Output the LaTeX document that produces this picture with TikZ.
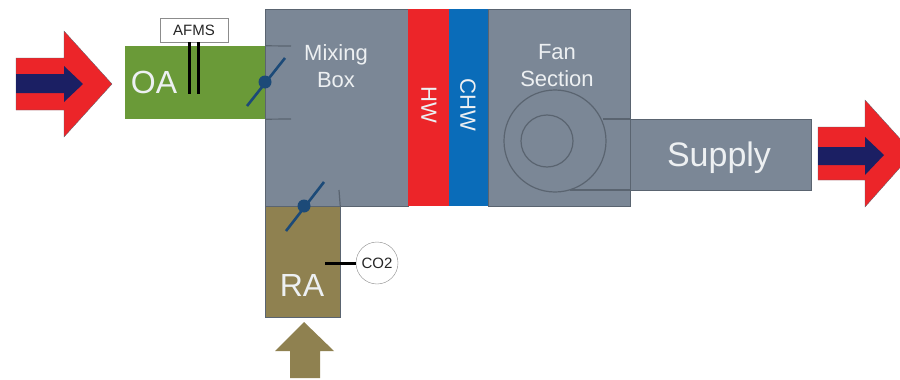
\documentclass[tikz,border=0pt]{standalone}
\usepackage{fontspec}
\setmainfont{Liberation Sans}
\usetikzlibrary{positioning}

\definecolor{ductgrey}{HTML}{7B8796}
\definecolor{edgegrey}{HTML}{5A6470}
\definecolor{oagreen}{HTML}{6A9A38}
\definecolor{raolive}{HTML}{8F8150}
\definecolor{hwred}{HTML}{EC2529}
\definecolor{chwblue}{HTML}{0A6CB9}
\definecolor{flownavy}{HTML}{1B1F63}
\definecolor{damperblue}{HTML}{1C4A78}
\definecolor{paletext}{HTML}{EDF0F2}

\tikzset{
    section/.style = {rectangle, draw = edgegrey, fill = ductgrey, inner sep = 0pt, outer sep = 0pt},
    coil/.style = {rectangle, inner sep = 0pt, outer sep = 0pt, minimum height = 197pt},
    caption/.style = {text = paletext, align = center, inner sep = 0pt, font = \fontsize{22}{27}\selectfont},
    bigcaption/.style = {text = paletext, inner sep = 0pt, font = \fontsize{32}{32}\selectfont},
    sensor/.style = {draw = black!45, fill = white, text = black!85, inner sep = 0pt},
    blade/.style = {damperblue, line width = 2.6pt},
    hub/.style = {circle, fill = damperblue, minimum size = 13pt, inner sep = 0pt},
    stub/.style = {edgegrey, line width = 1.2pt},
    probe/.style = {black, line width = 3pt}
}

\begin{document}
\begin{tikzpicture}[
    x = 1pt,
    y = -1pt, % same direction as image rows
    node distance = 0pt
    ]
    \useasboundingbox (0,0) rectangle (900,380);
    \clip (0,0) rectangle (900,380);

    % sections of the air handler
    \node[section, minimum width = 143pt, minimum height = 197pt] (mix) at (336.5,107.5) {};
    \node[coil, fill = hwred, minimum width = 41pt] (hw) [right=of mix] {};
    \node[coil, fill = chwblue, minimum width = 39pt] (chw) [right=of hw] {};
    \node[section, minimum width = 142pt, minimum height = 197pt] (fan) [right=of chw] {};
    \node[section, minimum width = 181pt, minimum height = 71pt] (supply) at (720.5,154.5) {};
    \node[rectangle, fill = oagreen, inner sep = 0pt, minimum width = 140pt, minimum height = 73pt] (oa) at (195,82.5) {};
    \node[rectangle, draw = edgegrey, fill = raolive, inner sep = 0pt, minimum width = 75pt, minimum height = 111pt] (ra) at (302.5,261.5) {};

    % flow arrows
    \fill[hwred, draw = edgegrey, line width = 0.3pt] (16,58) -- (64,58) -- (64,31) -- (112,84) -- (64,137) -- (64,110) -- (16,110) -- cycle;
    \fill[flownavy] (16,74) -- (64,74) -- (64,66) -- (83,84) -- (64,102) -- (64,93) -- (16,93) -- cycle;
    \fill[hwred, draw = edgegrey, line width = 0.3pt] (818,127) -- (865,127) -- (865,100) -- (913,153) -- (865,207) -- (865,180) -- (818,180) -- cycle;
    \fill[flownavy] (818,147) -- (865,147) -- (865,137) -- (884,155) -- (865,175) -- (865,165) -- (818,165) -- cycle;
    \fill[raolive] (304,322) -- (334,351) -- (320,351) -- (320,378) -- (290,378) -- (290,351) -- (275,351) -- cycle;

    % fan
    \node[circle, draw = edgegrey, line width = 1.2pt, minimum size = 102pt, inner sep = 0pt] (wheel) at (555,141) {};
    \node[circle, draw = edgegrey, line width = 1.2pt, minimum size = 52pt, inner sep = 0pt] (hubring) at (547,141) {};
    \coordinate (wheeltop) at (603,119);
    \coordinate (wheellow) at (570,190);
    \draw[stub] (wheeltop) -- (supply.north west);
    \draw[stub] (wheellow) -- (supply.south west);

    % dampers
    \coordinate (oatop) at (291,46);
    \coordinate (oalow) at (291,119);
    \draw[stub] (oa.north east) -- (oatop);
    \draw[stub] (oa.south east) -- (oalow);
    \node[hub] (oahub) at (265,82) {};
    \coordinate (oablade1) at (247,106);
    \coordinate (oablade2) at (285,58);
    \draw[blade] (oablade1) -- (oablade2);
    \node[hub] (rahub) at (304,206) {};
    \coordinate (rablade1) at (286,231);
    \coordinate (rablade2) at (324,182);
    \draw[blade] (rablade1) -- (rablade2);
    \coordinate (rastub) at (339,190);
    \draw[stub] (ra.north east) -- (rastub);

    % instruments
    \node[sensor, rectangle, minimum width = 68pt, minimum height = 24pt, font = \fontsize{15}{15}\selectfont] (afms) at (194,30) {AFMS};
    \coordinate (afmsleg1) at (189,94);
    \coordinate (afmsleg2) at (198,94);
    \draw[probe] (afmsleg1 |- afms.south) -- (afmsleg1);
    \draw[probe] (afmsleg2 |- afms.south) -- (afmsleg2);
    \node[sensor, circle, minimum size = 42pt, font = \fontsize{15}{15}\selectfont] (co2) at (377,263) {CO2};
    \coordinate (co2tip) at (325,263);
    \draw[probe] (co2) -- (co2tip);

    % captions
    \node[bigcaption] (oatext) at (154,82) {OA};
    \node[bigcaption] (ratext) at (302,285) {RA};
    \node[bigcaption, font = \fontsize{34}{34}\selectfont] (supplytext) at (719,158) {Supply};
    \node[caption] (mixtext) at (336,66) {Mixing\\Box};
    \node[caption] (fantext) at (557,66) {Fan\\Section};
    \node[caption, rotate = -90] (hwtext) at (429,105) {HW};
    \node[caption, rotate = -90] (chwtext) at (468,105) {CHW};
\end{tikzpicture}
\end{document}
